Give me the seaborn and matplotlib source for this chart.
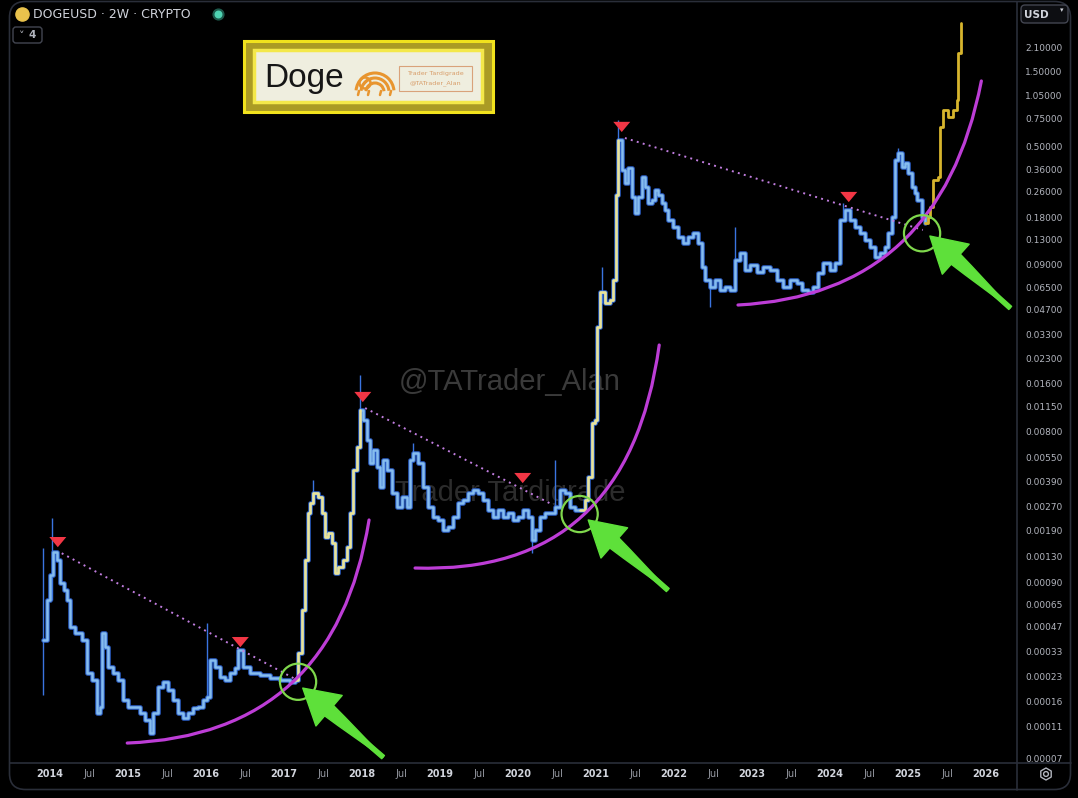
import matplotlib
matplotlib.use("Agg")
import matplotlib.pyplot as plt
import seaborn as sns
import numpy as np
import pandas as pd
from matplotlib.patches import FancyBboxPatch, Rectangle, PathPatch, FancyArrowPatch, Arc
from matplotlib.path import Path

# DOGEUSD 2W closes (decimal year, USD)
t_years = [
    2013.91, 2013.96, 2014.00, 2014.04, 2014.09, 2014.13, 2014.18, 2014.22, 2014.26, 2014.32,
    2014.41, 2014.47, 2014.54, 2014.60, 2014.64, 2014.67, 2014.71, 2014.74, 2014.81, 2014.87,
    2014.94, 2015.00, 2015.09, 2015.15, 2015.22, 2015.28, 2015.32, 2015.38, 2015.45, 2015.51,
    2015.58, 2015.64, 2015.71, 2015.77, 2015.83, 2015.90, 2015.96, 2016.01, 2016.05, 2016.12,
    2016.18, 2016.24, 2016.31, 2016.37, 2016.41, 2016.47, 2016.56, 2016.69, 2016.82, 2016.95,
    2017.08, 2017.14, 2017.18, 2017.23, 2017.27, 2017.31, 2017.33, 2017.37, 2017.44, 2017.49,
    2017.53, 2017.56, 2017.62, 2017.65, 2017.69, 2017.76, 2017.81, 2017.85, 2017.88, 2017.94,
    2017.97, 2018.01, 2018.06, 2018.10, 2018.14, 2018.19, 2018.23, 2018.27, 2018.32, 2018.38,
    2018.45, 2018.51, 2018.58, 2018.62, 2018.65, 2018.72, 2018.78, 2018.85, 2018.91, 2018.97,
    2019.04, 2019.10, 2019.17, 2019.23, 2019.29, 2019.36, 2019.42, 2019.49, 2019.55, 2019.62,
    2019.68, 2019.74, 2019.81, 2019.87, 2019.94, 2020.00, 2020.06, 2020.13, 2020.18, 2020.22,
    2020.28, 2020.35, 2020.41, 2020.47, 2020.54, 2020.60, 2020.67, 2020.73, 2020.79, 2020.86,
    2020.90, 2020.95, 2020.99, 2021.01, 2021.05, 2021.12, 2021.18, 2021.22, 2021.26, 2021.28,
    2021.33, 2021.37, 2021.41, 2021.46, 2021.50, 2021.54, 2021.59, 2021.63, 2021.67, 2021.72,
    2021.76, 2021.79, 2021.85, 2021.88, 2021.92, 2021.99, 2022.05, 2022.12, 2022.18, 2022.24,
    2022.31, 2022.36, 2022.40, 2022.46, 2022.53, 2022.59, 2022.65, 2022.72, 2022.78, 2022.85,
    2022.91, 2022.97, 2023.06, 2023.14, 2023.23, 2023.32, 2023.40, 2023.49, 2023.58, 2023.64,
    2023.72, 2023.78, 2023.85, 2023.91, 2024.00, 2024.06, 2024.13, 2024.19, 2024.26, 2024.32,
    2024.38, 2024.45, 2024.51, 2024.58, 2024.64, 2024.71, 2024.74, 2024.79, 2024.83, 2024.87,
    2024.92, 2024.96, 2025.00, 2025.05, 2025.09, 2025.12, 2025.18, 2025.22, 2025.26, 2025.28,
    2025.32, 2025.38, 2025.41, 2025.45, 2025.51, 2025.58, 2025.63, 2025.64, 2025.68,
]
closes = [
    0.000388, 0.000694, 0.000998, 0.00139, 0.00124, 0.000888, 0.000803, 0.000694, 0.000469, 0.000430,
    0.000388, 0.000240, 0.000217, 0.000135, 0.000147, 0.000430, 0.000350, 0.000262, 0.000240, 0.000217,
    0.000162, 0.000147, 0.000147, 0.000135, 0.000121, 0.000101, 0.000135, 0.000196, 0.000211, 0.000188,
    0.000162, 0.000135, 0.000125, 0.000135, 0.000145, 0.000147, 0.000162, 0.000170, 0.000290, 0.000262,
    0.000227, 0.000217, 0.000240, 0.000258, 0.000336, 0.000262, 0.000240, 0.000233, 0.000224, 0.000217,
    0.000211, 0.000217, 0.000321, 0.000600, 0.00124, 0.00245, 0.00284, 0.00328, 0.00310, 0.00245,
    0.00173, 0.00184, 0.00159, 0.00103, 0.00112, 0.00124, 0.00150, 0.00245, 0.00458, 0.00640,
    0.01095, 0.00947, 0.00709, 0.00507, 0.00613, 0.00479, 0.00358, 0.00530, 0.00458, 0.00328,
    0.00268, 0.00310, 0.00268, 0.00530, 0.00587, 0.00507, 0.00358, 0.00268, 0.00232, 0.00222,
    0.00192, 0.00200, 0.00232, 0.00284, 0.00296, 0.00328, 0.00343, 0.00328, 0.00296, 0.00256,
    0.00232, 0.00256, 0.00232, 0.00245, 0.00222, 0.00232, 0.00256, 0.00232, 0.00166, 0.00192,
    0.00232, 0.00245, 0.00245, 0.00268, 0.00343, 0.00328, 0.00268, 0.00256, 0.00256, 0.00296,
    0.00414, 0.00907, 0.00947, 0.0365, 0.0607, 0.0518, 0.0541, 0.0723, 0.2484, 0.552,
    0.357, 0.2956, 0.368, 0.2412, 0.1913, 0.2412, 0.3226, 0.279, 0.2212, 0.2310,
    0.267, 0.2484, 0.2212, 0.1998, 0.1728, 0.1561, 0.1350, 0.1238, 0.1350, 0.1431,
    0.1238, 0.0873, 0.0723, 0.0653, 0.0723, 0.0625, 0.0653, 0.0625, 0.0967, 0.1070,
    0.0836, 0.0899, 0.0812, 0.0873, 0.0836, 0.0723, 0.0653, 0.0723, 0.0692, 0.0625,
    0.0607, 0.0653, 0.0801, 0.0926, 0.0836, 0.0926, 0.1728, 0.1998, 0.1728, 0.1561,
    0.1431, 0.1292, 0.1168, 0.1010, 0.1070, 0.1168, 0.1431, 0.1805, 0.413, 0.457,
    0.373, 0.395, 0.342, 0.279, 0.2557, 0.2310, 0.1805, 0.1654, 0.1805, 0.2087,
    0.309, 0.3226, 0.667, 0.853, 0.771, 0.853, 0.9865, 1.952, 3.02,
]

# yellow legs and the drawn projection at the end
rally_spans = [(2017.14, 2017.98), (2020.79, 2021.29)]
projection_from = 2025.22

# a few visible wicks
wick_t = [2013.91, 2014.03, 2016.01, 2017.37, 2017.97, 2018.65, 2020.18, 2020.47,
          2021.08, 2021.28, 2022.46, 2022.78, 2024.17, 2024.87]
wick_hi = [0.00148, 0.00228, 0.000497, 0.00396, 0.0182, 0.00678, 0.00192, 0.0053,
           0.0873, 0.738, 0.0723, 0.156, 0.221, 0.491]
wick_lo = [0.000175, 0.000694, 0.000162, 0.00310, 0.00947, 0.00530, 0.00137, 0.00268,
           0.0518, 0.357, 0.0489, 0.0967, 0.1728, 0.413]

# annotations
peak_t = [2014.10, 2016.44, 2018.01, 2020.06, 2021.33, 2024.24]
peak_p = [0.00161, 0.000377, 0.01323, 0.00408, 0.667, 0.2412]

trend_t = [(2014.15, 2017.17), (2018.04, 2020.45), (2021.37, 2025.19)]
trend_p = [(0.00137, 0.000217), (0.01127, 0.00276), (0.568, 0.1495)]

arc_t = [(2014.99, 2017.65, 2018.09), (2018.68, 2021.41, 2021.81), (2022.82, 2025.41, 2025.94)]
arc_p = [(8.71e-5, 9.78e-5, 0.00222), (0.001105, 0.000998, 0.02814), (0.0503, 0.0582, 1.30)]

circle_t = [2017.18, 2020.79, 2025.18]
circle_p = [0.000212, 0.00242, 0.1425]

arrow_from_t = [2018.27, 2021.92, 2026.31]
arrow_from_p = [7.1e-5, 0.000803, 0.0482]
arrow_to_t = [2017.24, 2020.90, 2025.28]
arrow_to_p = [0.0001935, 0.00222, 0.1369]

price_ticks = [2.1, 1.5, 1.05, 0.75, 0.5, 0.36, 0.26, 0.18, 0.13, 0.09, 0.065, 0.047,
               0.033, 0.023, 0.016, 0.0115, 0.008, 0.0055, 0.0039, 0.0027, 0.0019,
               0.0013, 0.0009, 0.00065, 0.00047, 0.00033, 0.00023, 0.00016, 0.00011, 0.00007]
years = list(range(2014, 2027))

W, H = 1078, 798
BG = "#000000"
GRID = "#2a2e39"
ARROW = '#5ee03a'

sns.set_theme(style="dark")
plt.rcParams['font.family'] = ['DejaVu Sans']

fig = plt.figure(figsize=(W / 100, H / 100), dpi=100, facecolor=BG)
L, R, T, B = 10, 1017, 2, 763
ax = fig.add_axes([L / W, 1 - B / H, (R - L) / W, (B - T) / H])
ax.set_facecolor(BG)
ax.set_yscale('log')
ax.set_xlim(2013.487, 2026.397)
ax.set_ylim(6.52e-5, 4.09)

df = pd.DataFrame({'t': t_years, 'close': closes})

# blue candles (dark edge + light body)
base = df[df.t <= projection_from]
sns.lineplot(data=base, x='t', y='close', ax=ax, drawstyle='steps-post', estimator=None,
             sort=False, color='#2c5fc6', linewidth=3.3, zorder=2)
ax.vlines(wick_t, wick_lo, wick_hi, colors='#3a74e0', linewidth=1.0, zorder=2.1)
sns.lineplot(data=base, x='t', y='close', ax=ax, drawstyle='steps-post', estimator=None,
             sort=False, color='#86bdee', linewidth=1.8, zorder=2.2)

for a, b in rally_spans:
    seg = df[(df.t >= a) & (df.t <= b)]
    sns.lineplot(data=seg, x='t', y='close', ax=ax, drawstyle='steps-post', estimator=None,
                 sort=False, color='#ebe396', linewidth=1.8, zorder=2.3)

proj = df[df.t >= projection_from]
sns.lineplot(data=proj, x='t', y='close', ax=ax, drawstyle='steps-post', estimator=None,
             sort=False, color='#d7b52d', linewidth=2.0, zorder=2.3)

# dotted trend lines between lower highs
for ts, ps in zip(trend_t, trend_p):
    ax.plot(ts, ps, color='#c27ee0', linewidth=1.4, linestyle=(0, (1, 2.2)), zorder=2.5)

# red markers on the highs
tri = Path([(-1, 0.6), (1, 0.6), (0, -0.6), (-1, 0.6)])
sns.scatterplot(x=peak_t, y=peak_p, ax=ax, marker=tri, s=150, color='#f23645',
                edgecolor='none', zorder=3)

# magenta support curves
for ts, ps in zip(arc_t, arc_p):
    verts = list(zip(ts, ps))
    ax.add_patch(PathPatch(Path(verts, [Path.MOVETO, Path.CURVE3, Path.CURVE3]),
                           fill=False, edgecolor='#bd3dd6', linewidth=2.3, zorder=3,
                           capstyle='round'))

# green circles and arrows
ax.scatter(circle_t, circle_p, s=680, facecolors='none', edgecolors='#7fd84c',
           linewidths=1.6, zorder=3.5)
head_len = 1.25 * 20 * fig.dpi / 72.0  # head length in pixels
for x0, y0, x1, y1 in zip(arrow_from_t, arrow_from_p, arrow_to_t, arrow_to_p):
    p0 = ax.transData.transform((x0, y0))
    p1 = ax.transData.transform((x1, y1))
    u = (p1 - p0) / np.hypot(*(p1 - p0))
    neck = ax.transData.inverted().transform(p1 - u * (head_len - 2))
    # tapered shaft: wide at the head, thin at the tail
    ax.add_patch(FancyArrowPatch(tuple(neck), (x0, y0),
                                 arrowstyle='wedge,tail_width=0.5,shrink_factor=0.55',
                                 mutation_scale=20, color=ARROW, shrinkA=0, shrinkB=0,
                                 zorder=3.6))
    ax.add_patch(FancyArrowPatch((x0, y0), (x1, y1),
                                 arrowstyle='simple,head_length=1.25,head_width=1.45,tail_width=0.15',
                                 mutation_scale=20, color=ARROW, shrinkA=0, shrinkB=0,
                                 zorder=3.7))

# watermarks behind the candles
def axfrac(x, y):
    return (x - L) / (R - L), (B - y) / (B - T)

ax.text(*axfrac(510, 382), "@TATrader_Alan", transform=ax.transAxes, ha='center',
        va='center', fontsize=21, color='#3a3a3a', family='Liberation Sans', zorder=0.5)
ax.text(*axfrac(510, 493), "Trader Tardigrade", transform=ax.transAxes, ha='center',
        va='center', fontsize=21, color='#2c2c2c', family='Liberation Sans', zorder=0.5)

# ticks
ax.yaxis.tick_right()
ax.set_yticks(price_ticks)
ax.set_yticklabels([f"{v:.5f}" for v in price_ticks])
ax.minorticks_off()
xt, xl = [], []
for y in years:
    xt.append(y)
    xl.append(str(y))
    if y < years[-1]:
        xt.append(y + 0.5)
        xl.append("Jul")
ax.set_xticks(xt)
ax.set_xticklabels(xl)
ax.tick_params(axis='y', length=0, pad=5.8, labelsize=6.5, labelcolor='#b2b5be')
ax.tick_params(axis='x', length=0, pad=4.3, labelsize=7)
for lab in ax.get_xticklabels():
    if lab.get_text() == "Jul":
        lab.set_color('#9598a1')
    else:
        lab.set_color('#d1d4dc')
        lab.set_fontweight('bold')
ax.set_xlim(2013.487, 2026.397)
ax.set_ylim(6.52e-5, 4.09)
ax.set_xlabel("")
ax.set_ylabel("")
ax.grid(False)
for s in ax.spines.values():
    s.set_visible(False)

# overlay in pixel space for the TradingView chrome and the logo box
ov = fig.add_axes([0, 0, 1, 1], zorder=5)
ov.set_xlim(0, W)
ov.set_ylim(H, 0)
ov.axis('off')
ov.patch.set_alpha(0)

ov.add_patch(FancyBboxPatch((9.5, 1.5), 1061, 788, boxstyle='round,pad=0,rounding_size=16',
                            fc='none', ec=GRID, lw=1.2))
ov.plot([R, R], [1.5, 789.5], color=GRID, lw=1.2)
ov.plot([9.5, 1070.5], [B, B], color=GRID, lw=1.2)

# header
ov.scatter([22], [14], s=90, color='#e9c24c', marker='o')
ov.text(33, 14.5, "DOGEUSD · 2W · CRYPTO", fontsize=9, color='#d1d4dc', va='center', ha='left')
ov.scatter([218], [14], s=60, color='#1d5a4c', marker='o')
ov.scatter([218], [14], s=22, color='#4fd3b2', marker='o')
ov.add_patch(FancyBboxPatch((13, 27), 29, 16, boxstyle='round,pad=0,rounding_size=3',
                            fc='none', ec='#434651', lw=1))
ov.text(22, 36, "˅", fontsize=8, color='#b2b5be', ha='center', va='center')
ov.text(32, 35, "4", fontsize=7.5, color='#b2b5be', ha='center', va='center', fontweight='bold')

# price scale header and settings icon
ov.add_patch(FancyBboxPatch((1021, 5), 47, 18, boxstyle='round,pad=0,rounding_size=4',
                            fc='#0d0e12', ec='#434651', lw=1))
ov.text(1024, 14.5, "USD", fontsize=7.5, color='#d1d4dc', va='center', ha='left',
        fontweight='bold')
ov.text(1062, 10, "▾", fontsize=5, color='#d1d4dc', va='center', ha='center')
ov.scatter([1046], [774], s=75, marker='h', facecolors='none', edgecolors='#b2b5be', linewidths=1)
ov.scatter([1046], [774], s=12, marker='o', facecolors='none', edgecolors='#b2b5be', linewidths=1)

# Doge logo box
ov.add_patch(Rectangle((243.5, 40.5), 249, 71, fc='#ab9b24', ec='#f1e21d', lw=2.2))
ov.add_patch(Rectangle((254, 50), 228, 52, fc='#efeedf', ec='#f4e84a', lw=2.5))
ov.text(264, 78, "Doge", fontsize=24, color='#161616', family='Liberation Sans',
        ha='left', va='center')
for r in (9, 14, 19):
    ov.add_patch(Arc((375, 92), 2 * r, 2 * r, theta1=185, theta2=355, color='#e8952f', lw=2.2))
ov.add_patch(Arc((365, 83), 11, 11, color='#e8952f', lw=1.8))
ov.plot([361, 369], [87, 79], color='#e8952f', lw=1.6)
for lx in (359, 369, 381, 391):
    ov.plot([lx, lx - 1], [91, 95], color='#e8952f', lw=1.8)
ov.add_patch(Rectangle((399, 66), 73, 25, fc='none', ec='#d9a27a', lw=0.8))
ov.text(435.5, 73.5, "Trader Tardigrade", fontsize=4.6, color='#d89c68', ha='center', va='center')
ov.text(435.5, 83.5, "@TATrader_Alan", fontsize=4.6, color='#d89c68', ha='center', va='center')

fig.savefig("out.png", dpi=100, facecolor=BG)
